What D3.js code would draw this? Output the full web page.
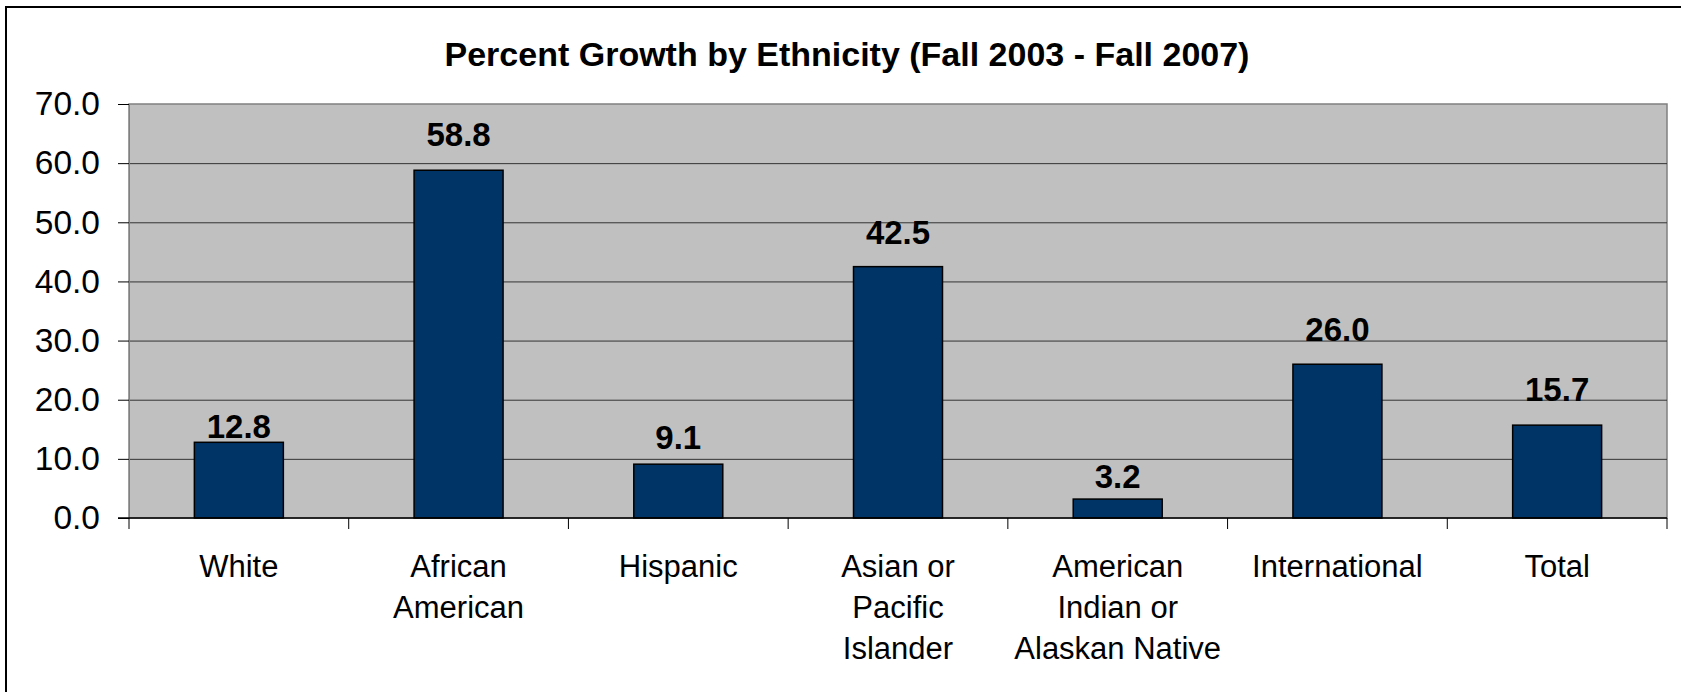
<!DOCTYPE html>
<html>
<head>
<meta charset="utf-8">
<script src="https://cdn.jsdelivr.net/npm/d3@7"></script>
<style>
  body { margin: 0; background: #fff; }
  svg { display: block; font-family: Arial, "Liberation Sans", sans-serif; }
</style>
</head>
<body>
<div class="chart"></div>
<script>
// data
var chartTitle = "Percent Growth by Ethnicity (Fall 2003 - Fall 2007)";
var categories = ["White", "African\nAmerican", "Hispanic", "Asian or\nPacific\nIslander",
                  "American\nIndian or\nAlaskan Native", "International", "Total"];
var growth = [12.8, 58.8, 9.1, 42.5, 3.2, 26.0, 15.7];
var yTicks = [0, 10, 20, 30, 40, 50, 60, 70];

var width = 1681;
var height = 692;
var plot = { left: 129, right: 1667, top: 104, bottom: 518 };

var svg = d3.select("div.chart").append("svg").attr("width", width).attr("height", height);

// outer chart border (runs off the right and bottom edge)
svg.append("rect")
  .attr("x", 6).attr("y", 7)
  .attr("width", 1720).attr("height", 720)
  .attr("fill", "#fff")
  .attr("stroke", "#000")
  .attr("stroke-width", 2);

svg.append("text")
  .attr("x", 847).attr("y", 66)
  .attr("text-anchor", "middle")
  .attr("font-size", "34px")
  .attr("font-weight", "bold")
  .text(chartTitle);

var x = d3.scaleBand()
  .domain(categories)
  .range([plot.left, plot.right])
  .paddingInner(0.595)
  .paddingOuter(0.2975);

var y = d3.scaleLinear()
  .domain([0, 70])
  .range([plot.bottom, plot.top]);

// plot area
svg.append("rect")
  .attr("x", plot.left).attr("y", plot.top)
  .attr("width", plot.right - plot.left).attr("height", plot.bottom - plot.top)
  .attr("fill", "#c0c0c0")
  .attr("stroke", "#808080")
  .attr("stroke-width", 1.5);

// gridlines
svg.append("g").selectAll("line")
  .data(yTicks.filter(function(d) { return d > 0 && d < 70; }))
  .enter().append("line")
  .attr("x1", plot.left).attr("x2", plot.right)
  .attr("y1", function(d) { return y(d) + 0.5; })
  .attr("y2", function(d) { return y(d) + 0.5; })
  .attr("stroke", "#333")
  .attr("stroke-width", 1);

// y axis
var yAxis = svg.append("g")
  .attr("transform", "translate(" + plot.left + ",0)")
  .call(d3.axisLeft(y).tickValues(yTicks).tickFormat(d3.format(".1f")).tickSize(11).tickPadding(18));
yAxis.select(".domain").attr("stroke", "#808080");
yAxis.selectAll(".tick line").attr("stroke", "#000");
yAxis.selectAll("text")
  .attr("font-size", "33.5px")
  .attr("font-family", "Arial, 'Liberation Sans', sans-serif")
  .attr("fill", "#000");

// bars
svg.append("g").selectAll("rect")
  .data(growth)
  .enter().append("rect")
  .attr("x", function(d, i) { return x(categories[i]); })
  .attr("y", function(d) { return y(d); })
  .attr("width", x.bandwidth())
  .attr("height", function(d) { return y(0) - y(d); })
  .attr("fill", "#003366")
  .attr("stroke", "#000")
  .attr("stroke-width", 1.5);

// x axis line and ticks at category boundaries
svg.append("line")
  .attr("x1", plot.left - 11).attr("x2", plot.right)
  .attr("y1", plot.bottom).attr("y2", plot.bottom)
  .attr("stroke", "#000").attr("stroke-width", 1.5);

var step = x.step();
svg.append("g").selectAll("line")
  .data(d3.range(categories.length + 1))
  .enter().append("line")
  .attr("x1", function(i) { return plot.left + i * step; })
  .attr("x2", function(i) { return plot.left + i * step; })
  .attr("y1", plot.bottom).attr("y2", plot.bottom + 11)
  .attr("stroke", "#000").attr("stroke-width", 1);

// category labels
var catLabels = svg.append("g").selectAll("text")
  .data(categories)
  .enter().append("text")
  .attr("text-anchor", "middle")
  .attr("font-size", "31px")
  .attr("x", function(d) { return x(d) + x.bandwidth() / 2; })
  .attr("y", 577);

catLabels.selectAll("tspan")
  .data(function(d) { return d.split("\n"); })
  .enter().append("tspan")
  .attr("x", function() { return d3.select(this.parentNode).attr("x"); })
  .attr("dy", function(d, i) { return i === 0 ? 0 : 41; })
  .text(function(d) { return d; });

// value labels (gap above bar top, as placed in the original)
var labelGap = [4, 24, 15, 23, 10.6, 23, 24];
svg.append("g").selectAll("text")
  .data(growth)
  .enter().append("text")
  .attr("text-anchor", "middle")
  .attr("font-size", "33px")
  .attr("font-weight", "bold")
  .attr("x", function(d, i) { return x(categories[i]) + x.bandwidth() / 2; })
  .attr("y", function(d, i) { return y(d) - labelGap[i]; })
  .text(function(d) { return d3.format(".1f")(d); });
</script>
</body>
</html>
